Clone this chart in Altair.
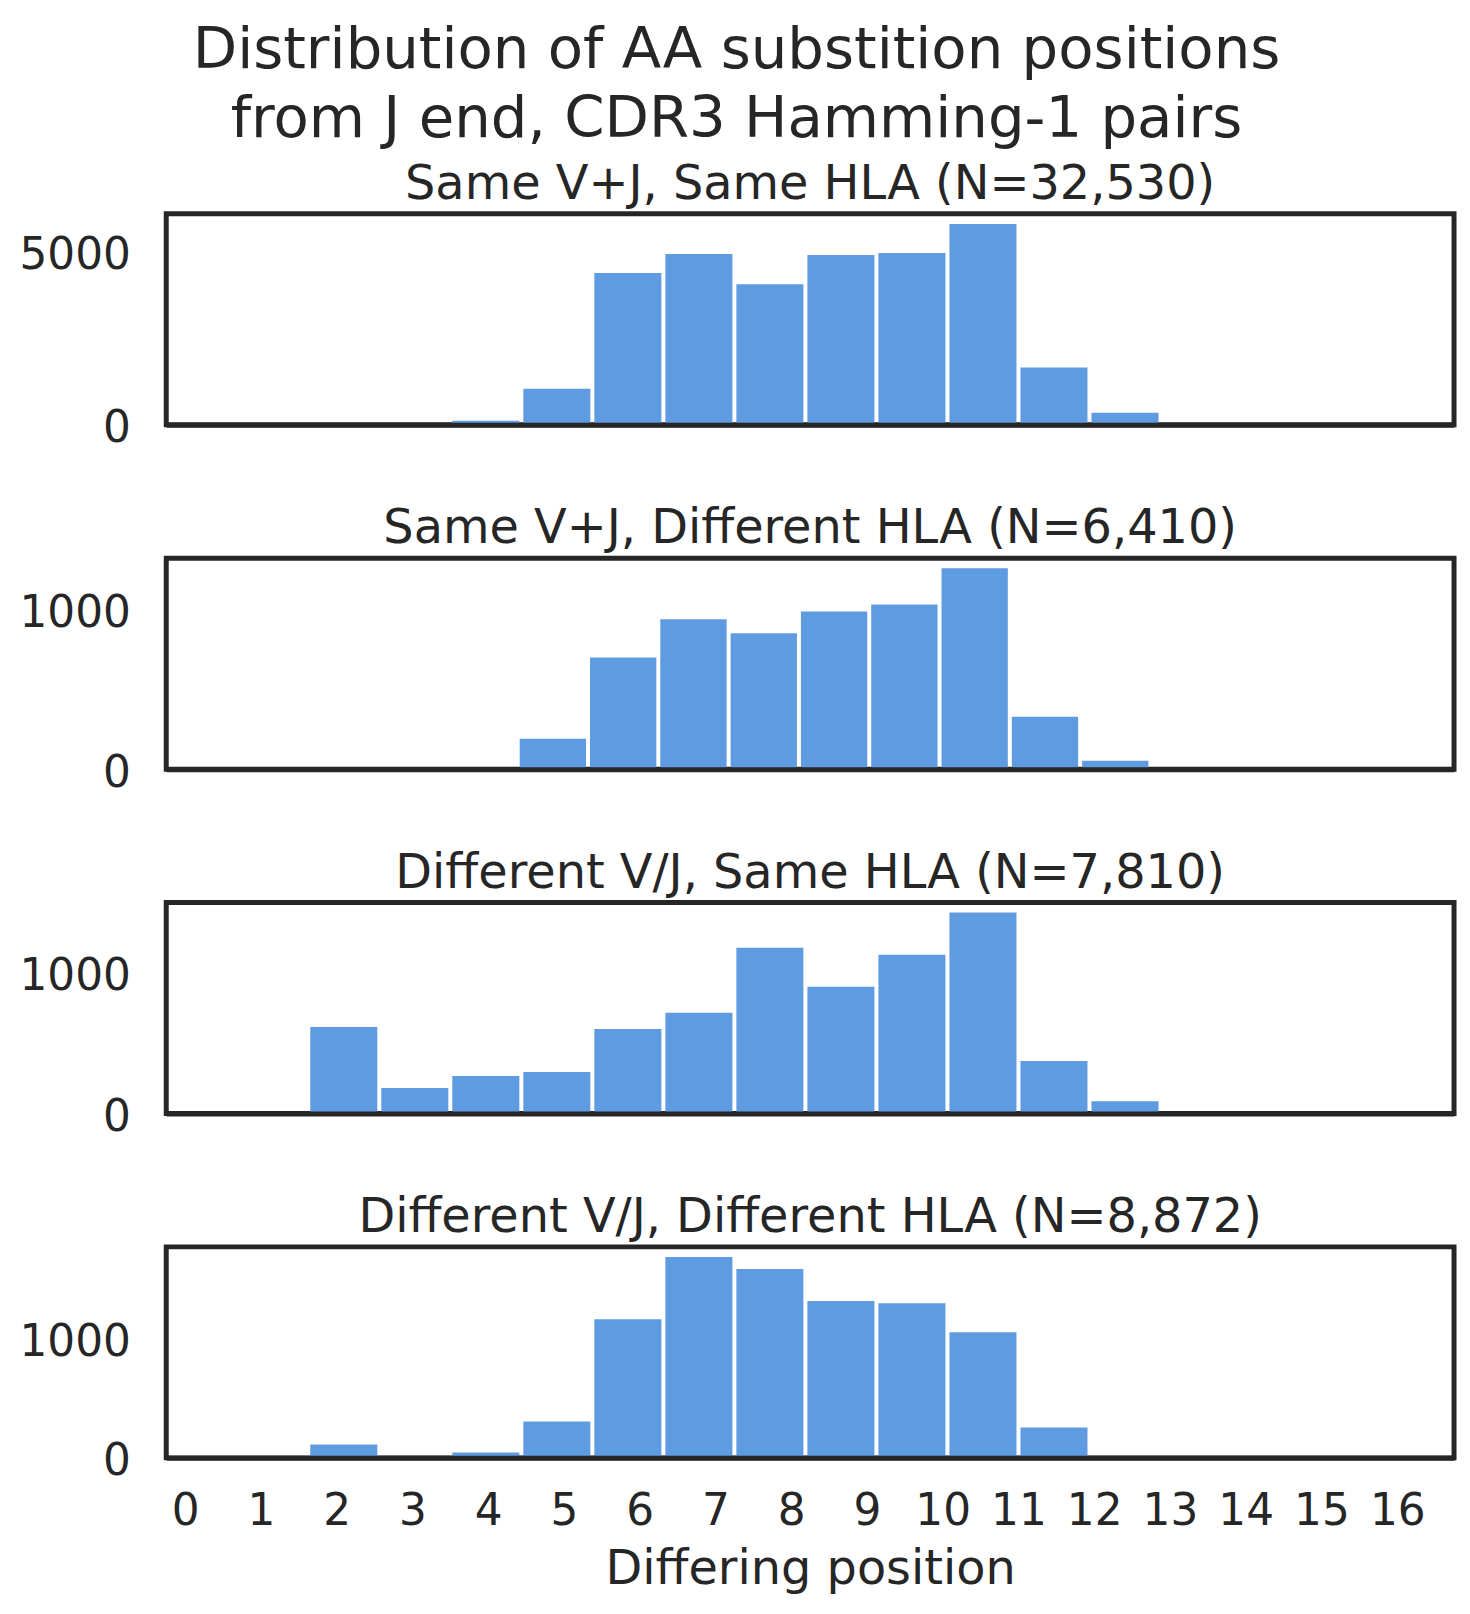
import altair as alt
import pandas as pd

# histogram bins: 16 bins starting at -0.25, one bin width per panel
bin_start = -0.25
x_ticks = list(range(17))

titles = [
    "Same V+J, Same HLA (N=32,530)",
    "Same V+J, Different HLA (N=6,410)",
    "Different V/J, Same HLA (N=7,810)",
    "Different V/J, Different HLA (N=8,872)",
]
bin_widths = [0.9375, 0.928, 0.9375, 0.9375]
y_ticks = [[0, 5000], [0, 1000], [0, 1000], [0, 1000]]

# counts per bin (bin index 0..15)
same_vj_same_hla = [0, 0, 0, 0, 116, 1047, 4390, 4942, 4070, 4913, 4971, 5814, 1657, 349, 0, 0]
same_vj_diff_hla = [0, 0, 0, 0, 0, 191, 701, 941, 853, 991, 1035, 1262, 330, 53, 0, 0]
diff_vj_same_hla = [0, 0, 612, 180, 265, 293, 598, 712, 1173, 896, 1123, 1421, 371, 87, 0, 0]
diff_vj_diff_hla = [0, 0, 112, 0, 45, 305, 1162, 1683, 1582, 1313, 1296, 1053, 255, 0, 0, 0]

all_counts = [same_vj_same_hla, same_vj_diff_hla, diff_vj_same_hla, diff_vj_diff_hla]

TEXT = "#262626"
BAR = "#5f9be0"


def panel(counts, bw, title, yt, bottom):
    df = pd.DataFrame({"bin": range(len(counts)), "count": counts})
    df["x0"] = bin_start + df["bin"] * bw
    df["x1"] = df["x0"] + bw
    df = df[df["count"] > 0]

    # x axis only used for its baseline on upper panels; drawn above the bars
    xaxis = alt.Axis(values=x_ticks, title="Differing position" if bottom else None,
                     labels=bottom, grid=False, domain=True, domainColor=TEXT,
                     domainWidth=5, zindex=1, ticks=False, tickSize=0, labelPadding=32,
                     labelFontSize=44, titleFontSize=48, titlePadding=12,
                     titleFontWeight="normal", labelFlush=False)

    return alt.Chart(df).mark_bar(color=BAR, xOffset=2, x2Offset=-2).encode(
        x=alt.X("x0:Q", scale=alt.Scale(domain=[-0.25, 16.75], nice=False, zero=False), axis=xaxis),
        x2="x1:Q",
        y=alt.Y("count:Q", scale=alt.Scale(domain=[0, max(counts) * 1.05], nice=False),
                axis=alt.Axis(values=yt, format="d", title=None, grid=False, domain=False,
                              ticks=False, tickSize=0, labelPadding=36, labelFontSize=44,
                              labelOffset=4)),
        y2=alt.datum(0),
    ).properties(
        width=1294, height=212,
        title=alt.TitleParams(title, fontSize=48, fontWeight="normal", color=TEXT,
                              offset=5, anchor="middle"),
    )


panels = [panel(c, bw, t, yt, i == 3)
          for i, (c, bw, t, yt) in enumerate(zip(all_counts, bin_widths, titles, y_ticks))]

chart = alt.vconcat(*panels, spacing=134, bounds="flush").properties(
    title=alt.TitleParams(
        ["Distribution of AA substition positions", "from J end, CDR3 Hamming-1 pairs"],
        fontSize=58, lineHeight=69, fontWeight="normal", color=TEXT, anchor="middle",
        offset=10,
    ),
    padding={"left": 8, "top": 10, "right": 5, "bottom": 5},
).configure(font="DejaVu Sans").configure_view(
    stroke=TEXT, strokeWidth=5
).configure_axis(
    labelColor=TEXT, titleColor=TEXT
)

chart.save("out.html", embed_options={"renderer": "svg", "actions": False})
